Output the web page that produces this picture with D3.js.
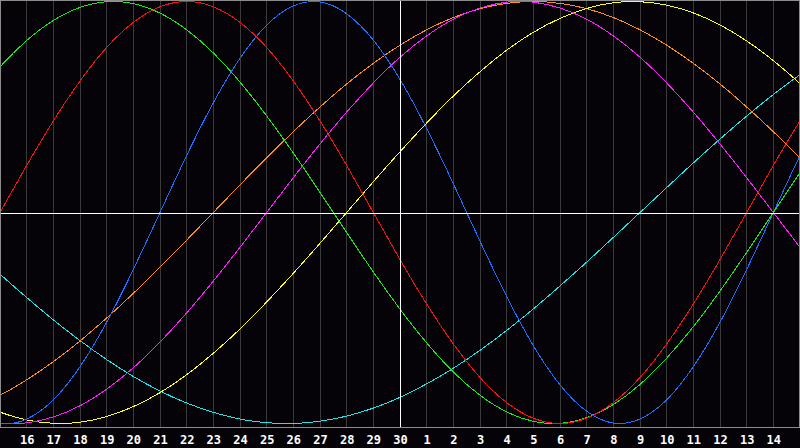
<!DOCTYPE html>
<html><head><meta charset="utf-8">
<script src="https://cdn.jsdelivr.net/npm/d3@7"></script>
<style>html,body{margin:0;padding:0;background:#050308;overflow:hidden}</style>
</head><body>
<svg id="c" width="800" height="448"></svg>
<script>
// day labels at grid positions 1..29 (positions 0 and 30 are the 15th)
const dayLabels = ["16","17","18","19","20","21","22","23","24","25","26","27","28","29","30",
  "1","2","3","4","5","6","7","8","9","10","11","12","13","14"];
// series values sampled per day, from position -1 to 31
const physical = [-0.942,-0.998,-0.979,-0.888,-0.731,-0.520,-0.270,0.000,0.270,0.520,0.731,
  0.888,0.979,0.998,0.942,0.817,0.631,0.398,0.136,-0.136,-0.398,-0.631,
  -0.817,-0.942,-0.998,-0.979,-0.888,-0.731,-0.520,-0.270,0.000,0.270,0.520];
const emotional = [-0.223,0.000,0.223,0.434,0.623,0.782,0.901,0.975,1.000,0.975,0.901,
  0.782,0.623,0.434,0.223,0.000,-0.223,-0.434,-0.623,-0.782,-0.901,-0.975,
  -1.000,-0.975,-0.901,-0.782,-0.623,-0.434,-0.223,0.000,0.223,0.434,0.623];
const intellectual = [0.541,0.690,0.815,0.910,0.972,0.999,0.990,0.945,0.866,0.756,0.618,
  0.458,0.282,0.095,-0.095,-0.282,-0.458,-0.618,-0.756,-0.866,-0.945,-0.990,
  -0.999,-0.972,-0.910,-0.815,-0.690,-0.541,-0.372,-0.189,0.000,0.189,0.372];
const intuitive = [-0.969,-0.997,-0.997,-0.969,-0.916,-0.837,-0.736,-0.614,-0.476,-0.325,-0.165,
  0.000,0.165,0.325,0.476,0.614,0.736,0.837,0.916,0.969,0.997,0.997,
  0.969,0.916,0.837,0.736,0.614,0.476,0.325,0.165,0.000,-0.165,-0.325];
const aesthetic = [-0.889,-0.946,-0.983,-0.999,-0.994,-0.967,-0.920,-0.854,-0.769,-0.667,-0.552,
  -0.424,-0.288,-0.146,0.000,0.146,0.288,0.424,0.552,0.667,0.769,0.854,
  0.920,0.967,0.994,0.999,0.983,0.946,0.889,0.813,0.720,0.611,0.489];
const awareness = [-0.924,-0.866,-0.793,-0.707,-0.609,-0.500,-0.383,-0.259,-0.131,0.000,0.131,
  0.259,0.383,0.500,0.609,0.707,0.793,0.866,0.924,0.966,0.991,1.000,
  0.991,0.966,0.924,0.866,0.793,0.707,0.609,0.500,0.383,0.259,0.131];
const spiritual = [-0.177,-0.292,-0.403,-0.509,-0.607,-0.697,-0.777,-0.846,-0.903,-0.947,-0.979,
  -0.996,-1.000,-0.989,-0.965,-0.927,-0.876,-0.812,-0.738,-0.653,-0.559,-0.457,
  -0.348,-0.235,-0.118,0.000,0.118,0.235,0.348,0.457,0.559,0.653,0.738];

const series = [
  {name:"spiritual", values:spiritual, color:"#1ee6e6"},
  {name:"awareness", values:awareness, color:"#ff8a1e"},
  {name:"aesthetic", values:aesthetic, color:"#ffff1e"},
  {name:"intuitive", values:intuitive, color:"#ff1eff"},
  {name:"physical", values:physical, color:"#1e6eff"},
  {name:"intellectual", values:intellectual, color:"#1ee61e"},
  {name:"emotional", values:emotional, color:"#ff1010"}
];

const W = 800, plotBottom = 427;
const svg = d3.select("#c");
const x = d3.scaleLinear().domain([0, 30]).range([0, W]);
const y = d3.scaleLinear().domain([-1, 1]).range([423.5, 1.5]);

svg.append("rect").attr("x",0).attr("y",0).attr("width",800).attr("height",448).attr("fill","#050308");

// vertical grid
const gridPos = d3.range(1, 30);
svg.append("g").selectAll("line").data(gridPos.filter(d => d !== 15)).join("line")
  .attr("x1", d => Math.floor(x(d)) + 0.5).attr("x2", d => Math.floor(x(d)) + 0.5)
  .attr("y1", 0).attr("y2", plotBottom)
  .attr("stroke", "#3a3a3a").attr("stroke-width", 1).attr("shape-rendering","crispEdges");

svg.append("defs").append("clipPath").attr("id","clip").append("rect")
  .attr("x",1).attr("y",1).attr("width",798).attr("height",plotBottom-1);

const line = d3.line().x((d,i) => x(i - 1)).y(d => y(d)).curve(d3.curveNatural);
svg.append("g").attr("clip-path","url(#clip)").selectAll("path").data(series).join("path")
  .attr("d", d => line(d.values)).attr("fill","none")
  .attr("stroke", d => d.color).attr("stroke-width", 1).attr("shape-rendering","crispEdges");

// centre lines
svg.append("line").attr("x1",0).attr("x2",W).attr("y1",213.5).attr("y2",213.5)
  .attr("stroke","#ffffff").attr("shape-rendering","crispEdges");
svg.append("line").attr("x1",Math.floor(x(15))+0.5).attr("x2",Math.floor(x(15))+0.5).attr("y1",0).attr("y2",plotBottom)
  .attr("stroke","#ffffff").attr("shape-rendering","crispEdges");

// frame
svg.append("rect").attr("x",0.5).attr("y",0.5).attr("width",799).attr("height",plotBottom)
  .attr("fill","none").attr("stroke","#8c8c8c").attr("shape-rendering","crispEdges");

// day labels via axis
const axis = d3.axisBottom(x).tickValues(gridPos).tickFormat(d => dayLabels[d-1]).tickSize(0).tickPadding(0);
const g = svg.append("g").attr("transform",`translate(0,${plotBottom})`).call(axis);
g.select(".domain").remove();
g.selectAll("text").attr("fill","#ffffff").attr("y",16.5).attr("dy",null)
  .style("font-family","'DejaVu Sans Mono', monospace").style("font-weight","bold").style("font-size","12px");
</script>
</body></html>
